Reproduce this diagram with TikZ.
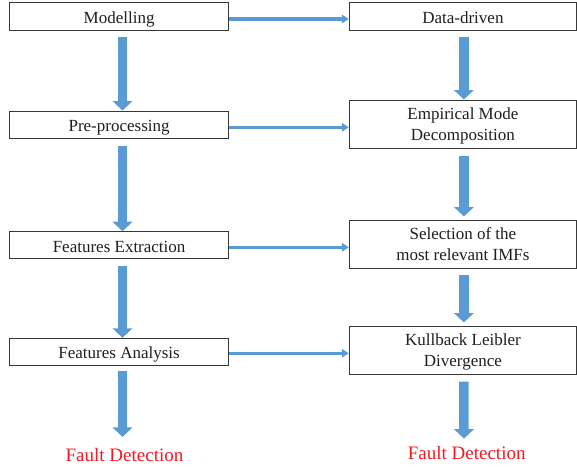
\documentclass[tikz,border=0pt]{standalone}
\usepackage{fontspec}
\setmainfont{Liberation Serif}
\usetikzlibrary{arrows.meta}
\definecolor{arrowblue}{RGB}{91,155,213}
\definecolor{fdred}{RGB}{237,28,36}
\begin{document}
\begin{tikzpicture}[x=1pt,y=-1pt,
  box/.style={draw=black!78,line width=1pt,fill=white,inner sep=0pt,
    font=\fontsize{17}{20.5}\selectfont,text=black!88,align=center,text depth=0pt},
  leftbox/.style={box,minimum width=219.2pt},
  rightbox/.style={box,minimum width=227.2pt},
  oneline/.style={text height=14pt},
  harrow/.style={draw=arrowblue,line width=3.2pt,-{Triangle[length=7pt,width=8.5pt]}},
  varrow/.style={draw=arrowblue,line width=9.5pt,-{Triangle[length=9.5pt,width=19.5pt]}},
  fault/.style={text=fdred,font=\fontsize{19}{22}\selectfont,inner sep=0pt,anchor=base}]
\useasboundingbox (0,0) rectangle (577,469);
% left column
\node[leftbox,oneline,minimum height=28pt]   (m)  at (119.1,16.7)  {Modelling};
\node[leftbox,oneline,minimum height=27.7pt] (p)  at (119.1,124.85) {Pre-processing};
\node[leftbox,oneline,minimum height=27pt]   (fe) at (119.1,245.2) {Features Extraction};
\node[leftbox,oneline,minimum height=27pt]   (fa) at (119.1,351.8) {Features Analysis};
% right column
\node[rightbox,oneline,minimum height=28pt]  (d)   at (462.9,16.7)  {Data-driven};
\node[rightbox,minimum height=48.3pt] (emd) at (462.9,124.15) {Empirical Mode\\Decomposition};
\node[rightbox,minimum height=48.3pt] (sel) at (462.9,244.15) {Selection of the\\most relevant IMFs};
\node[rightbox,minimum height=48pt]   (kl)  at (462.9,350)    {Kullback Leibler\\Divergence};
% results
\node[fault] (fd1) at (124.5,461.7) {Fault Detection};
\node[fault] (fd2) at (466.7,459.3) {Fault Detection};
% horizontal arrows
\draw[harrow] ([yshift=-2.3pt]m.east)  -- ([yshift=-2.3pt]m.east -| d.west);
\draw[harrow] ([yshift=-2.45pt]p.east) -- ([yshift=-2.45pt]p.east -| emd.west);
\draw[harrow] ([yshift=-2.1pt]fe.east) -- ([yshift=-2.1pt]fe.east -| sel.west);
\draw[harrow] ([yshift=-1.5pt]fa.east) -- ([yshift=-1.5pt]fa.east -| kl.west);
% left vertical arrows
\draw[varrow] ([xshift=3.4pt,yshift=-5.3pt]m.south)  -- ([xshift=3.4pt]p.north);
\draw[varrow] ([xshift=3.4pt,yshift=-6.3pt]p.south)  -- ([xshift=3.4pt]fe.north);
\draw[varrow] ([xshift=3.4pt,yshift=-6.3pt]fe.south) -- ([xshift=3.4pt]fa.north);
\draw[varrow] ([xshift=3.4pt,yshift=-4.7pt]fa.south) -- ([xshift=-2pt,yshift=11.4pt]fd1.north);
% right vertical arrows
\draw[varrow] ([xshift=1pt,yshift=-5.3pt]d.south)   -- ([xshift=1pt]emd.north);
\draw[varrow] ([xshift=1pt,yshift=-6.7pt]emd.south) -- ([xshift=1pt,yshift=3pt]sel.north);
\draw[varrow] ([xshift=1pt,yshift=-5.7pt]sel.south) -- ([xshift=1pt,yshift=3pt]kl.north);
\draw[varrow] ([xshift=1pt,yshift=-7pt]kl.south)    -- ([xshift=-2.7pt,yshift=7.3pt]fd2.north);
\end{tikzpicture}
\end{document}
